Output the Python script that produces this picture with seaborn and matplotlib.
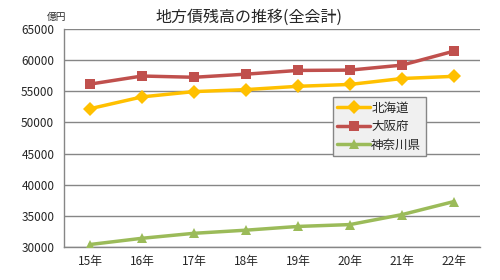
import matplotlib
matplotlib.use("Agg")
import matplotlib.pyplot as plt
import seaborn as sns
import pandas as pd
import numpy as np

years = ["15年", "16年", "17年", "18年", "19年", "20年", "21年", "22年"]
hokkaido = [52200, 54100, 54950, 55270, 55800, 56100, 57050, 57400]
osaka = [56150, 57450, 57250, 57750, 58350, 58400, 59200, 61450]
kanagawa = [30400, 31400, 32200, 32700, 33300, 33600, 35200, 37300]
series_names = ["北海道", "大阪府", "神奈川県"]
yticks = [30000, 35000, 40000, 45000, 50000, 55000, 60000, 65000]

sns.set_theme(style="white")
plt.rcParams['font.family'] = ['Noto Sans CJK JP', 'DejaVu Sans']

df = pd.DataFrame({
    "x": list(range(len(years))) * 3,
    "value": hokkaido + osaka + kanagawa,
    "series": [series_names[0]] * 8 + [series_names[1]] * 8 + [series_names[2]] * 8,
})

fig = plt.figure(figsize=(5.0, 2.8), dpi=100)
ax = fig.add_axes([64/500, 1-247/280, (480-64)/500, (247-29)/280])

palette = {"北海道": "#FFC000", "大阪府": "#C0504D", "神奈川県": "#9BBB59"}
markers = {"北海道": "D", "大阪府": "s", "神奈川県": "^"}
sns.lineplot(data=df, x="x", y="value", hue="series", style="series",
             palette=palette, markers=markers, dashes=False, linewidth=2.5,
             markersize=7.5, markeredgewidth=0, ax=ax, zorder=3)

ax.set_xlim(-0.5, len(years) - 0.5)
ax.set_ylim(30000, 65000)
ax.set_yticks(yticks)
ax.set_yticklabels([str(v) for v in yticks], fontsize=8.5)
ax.set_xticks(range(len(years)))
ax.set_xticklabels(years, fontsize=8.5)
ax.set_xticks(np.arange(-0.5, len(years), 1.0), minor=True)
ax.tick_params(axis="x", which="major", length=0, pad=6)
ax.tick_params(axis="x", which="minor", length=4, color="#868686", direction="out")
ax.tick_params(axis="y", which="major", length=4, color="#868686", direction="out", pad=3)
ax.grid(axis="y", color="#868686", linewidth=1)
ax.set_axisbelow(True)
for s in ["top", "right"]:
    ax.spines[s].set_visible(False)
for s in ["left", "bottom"]:
    ax.spines[s].set_color("#868686")
    ax.spines[s].set_linewidth(1)
ax.set_xlabel("")
ax.set_ylabel("")

leg = ax.legend(loc="upper left", bbox_to_anchor=((333-64)/416, (247-97)/218),
                fontsize=9, frameon=True, fancybox=False, framealpha=1,
                facecolor="#F0F0F0", edgecolor="#868686", borderpad=0.35,
                handlelength=2.6, labelspacing=0.45, handletextpad=0.1,
                borderaxespad=0)
leg.get_frame().set_linewidth(1)
leg.set_zorder(5)

fig.text(249/500, 1-17/280, "地方債残高の推移(全会計)", fontsize=11.5, ha="center", va="center")
fig.text(57/500, 1-17/280, "億円", fontsize=7, ha="center", va="center")

fig.savefig("out.png", dpi=100)
